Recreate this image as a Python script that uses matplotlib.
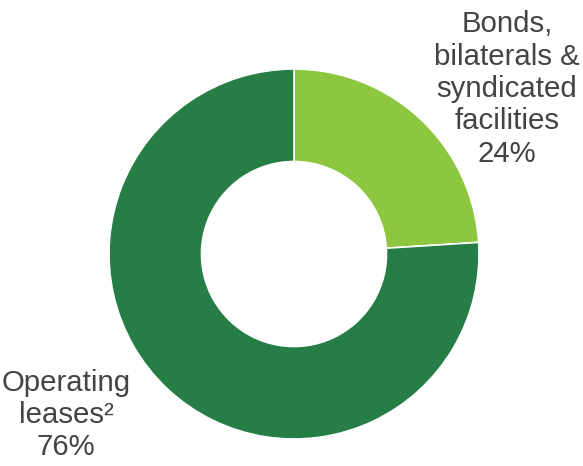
import matplotlib
matplotlib.use("Agg")
import matplotlib.pyplot as plt

# funding mix
labels = ["Bonds,\nbilaterals &\nsyndicated\nfacilities", "Operating\nleases²"]
shares = [24, 76]
colours = ["#8DC63F", "#267E46"]

W, H = 583, 466
fig = plt.figure(figsize=(W / 100, H / 100), dpi=100)
# ring spans x 109..479, y 27..397 (from bottom) in pixels
ax = fig.add_axes([109 / W, 27 / H, 370 / W, 370 / H])
ax.pie(shares, colors=colours, startangle=90, counterclock=False,
       radius=1.0, wedgeprops=dict(width=0.5, edgecolor="white", linewidth=1.2))
ax.set_xlim(-1, 1)
ax.set_ylim(-1, 1)
ax.set_aspect("equal")
ax.axis("off")

txt = dict(ha="center", va="center", fontsize=21.2, color="#444444",
           family="Liberation Sans", linespacing=1.2)
fig.text(507 / W, 1 - 89 / H, f"{labels[0]}\n{shares[0]}%", **txt)
fig.text(66 / W, 1 - 415 / H, f"{labels[1]}\n{shares[1]}%", **txt)

fig.savefig("out.png", dpi=100)
